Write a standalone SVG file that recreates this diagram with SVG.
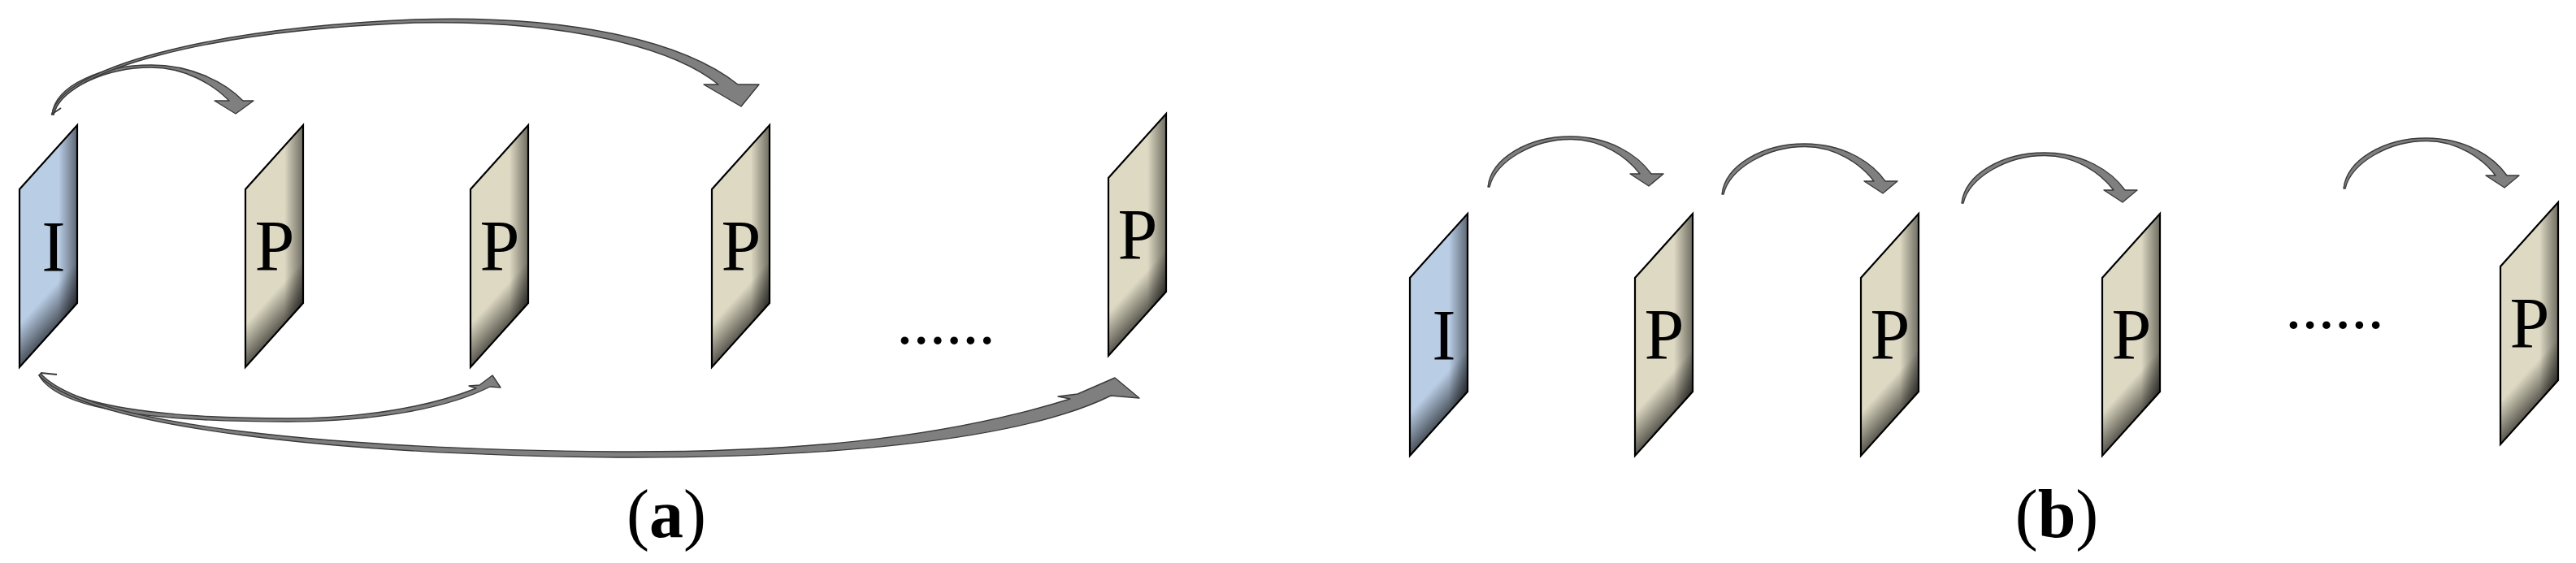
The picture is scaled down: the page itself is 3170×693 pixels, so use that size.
<svg xmlns="http://www.w3.org/2000/svg" xmlns:xlink="http://www.w3.org/1999/xlink" width="3170" height="693" viewBox="0 0 3170 693">
<style>
.lbl{font-family:"Liberation Serif","Times New Roman",serif;font-size:88px;fill:#000;text-anchor:middle}
.dots{font-family:"Liberation Serif","Times New Roman",serif;font-size:81px;fill:#000;text-anchor:middle}
.cap{font-family:"Liberation Serif","Times New Roman",serif;font-size:84px;fill:#000;text-anchor:middle}
.arr{fill:#7f7f7f;stroke:#3a3a3a;stroke-width:1.4;stroke-linejoin:round}
.tail{fill:none;stroke:#3a3a3a;stroke-width:2}
.edge{fill:none;stroke:#000;stroke-width:2.2}
</style>
<defs>
<linearGradient id="shadeR" gradientUnits="userSpaceOnUse" x1="48" y1="0" x2="71" y2="0">
<stop offset="0" stop-color="#000" stop-opacity="0"/>
<stop offset="1" stop-color="#000" stop-opacity="0.5"/>
</linearGradient>
<linearGradient id="shadeB" gradientUnits="userSpaceOnUse" x1="35.5" y1="-39.5" x2="9.4" y2="-63">
<stop offset="0" stop-color="#000" stop-opacity="0.6"/>
<stop offset="1" stop-color="#000" stop-opacity="0"/>
</linearGradient>
<polygon id="fshape" points="0,0 0,-219 71,-298 71,-79"/>
<g id="frameI">
<use xlink:href="#fshape" fill="#b9cde5"/>
<use xlink:href="#fshape" fill="url(#shadeR)"/>
<use xlink:href="#fshape" fill="url(#shadeB)"/>
<use xlink:href="#fshape" class="edge"/>
</g>
<g id="frameP">
<use xlink:href="#fshape" fill="#ddd9c3"/>
<use xlink:href="#fshape" fill="url(#shadeR)"/>
<use xlink:href="#fshape" fill="url(#shadeB)"/>
<use xlink:href="#fshape" class="edge"/>
</g>
<path id="hop" class="arr" d="M0,0 C4,-35 49,-62 102,-62 C149,-62 184,-40 201,-16 L216,-16 L198,-1 L175,-16 L187,-16 C171,-37 140,-58.5 102,-58.5 C56,-58.5 10,-32 2,0 Z"/>
</defs>
<rect width="3170" height="693" fill="#fff"/>

<g id="connectors">
<path id="a-I-P1" class="arr" d="M64,141 C68,104 128,80 186,80 C234,80 276,100 299,124 L312,124 L290,140 L264,124 L282,124 C262,104 228,83 186,83 C132,83 74,108 66,141 Z"/>
<path id="a-I-P3" class="arr" d="M64,140 C75,85 250,35 510,24 C700,18 840,50 908,104 L934,104 L912,131 L866,104 L884,104 C830,60 700,24 510,28 C252,38 77,87 66,141 Z"/>
<path class="tail" d="M63,141 L75,133"/>
<path id="a-I-P2" class="arr" d="M50,460 C80,500 200,515 354,515 C450,515 530,500 586,478 L577,475 L590,474 L606,462 L616,477 L603,476 C550,503 460,519 354,519 C190,519 72,505 48,462 Z"/>
<path id="a-I-P4" class="arr" d="M50,460 C110,525 420,553 760,556 C960,557 1150,543 1317,491 L1302,488 L1326,485 L1372,465 L1402,490 L1367,487 C1250,545 1000,564 760,563 C420,560 108,527 48,462 Z"/>
<path class="tail" d="M50,459 L70,461"/>
<use id="b-I-P1" xlink:href="#hop" transform="translate(1831,230)"/>
<use id="b-P1-P2" xlink:href="#hop" transform="translate(2119,239)"/>
<use id="b-P2-P3" xlink:href="#hop" transform="translate(2414,250)"/>
<use id="b-Pn-1-Pn" xlink:href="#hop" transform="translate(2884,232)"/>
</g>

<g id="a-I" transform="translate(24,452)"><use xlink:href="#frameI"/><text class="lbl" x="42" y="-119">I</text></g>
<g id="a-P1" transform="translate(302,452)"><use xlink:href="#frameP"/><text class="lbl" x="36" y="-120">P</text></g>
<g id="a-P2" transform="translate(579,452)"><use xlink:href="#frameP"/><text class="lbl" x="36" y="-120">P</text></g>
<g id="a-P3" transform="translate(876,452)"><use xlink:href="#frameP"/><text class="lbl" x="36" y="-120">P</text></g>
<g id="a-P4" transform="translate(1364,438)"><use xlink:href="#frameP"/><text class="lbl" x="36" y="-120">P</text></g>
<text id="a-dots" class="dots" x="1164" y="423">......</text>
<text id="cap-a" class="cap" x="820" y="661">(<tspan font-weight="bold">a</tspan>)</text>

<g id="b-I" transform="translate(1735,561)"><use xlink:href="#frameI"/><text class="lbl" x="42" y="-119">I</text></g>
<g id="b-P1" transform="translate(2012,561)"><use xlink:href="#frameP"/><text class="lbl" x="36" y="-120">P</text></g>
<g id="b-P2" transform="translate(2290,561)"><use xlink:href="#frameP"/><text class="lbl" x="36" y="-120">P</text></g>
<g id="b-P3" transform="translate(2587,561)"><use xlink:href="#frameP"/><text class="lbl" x="36" y="-120">P</text></g>
<g id="b-P4" transform="translate(3077,547)"><use xlink:href="#frameP"/><text class="lbl" x="36" y="-120">P</text></g>
<text id="b-dots" class="dots" x="2873" y="404">......</text>
<text id="cap-b" class="cap" x="2531" y="661">(<tspan font-weight="bold">b</tspan>)</text>
</svg>
